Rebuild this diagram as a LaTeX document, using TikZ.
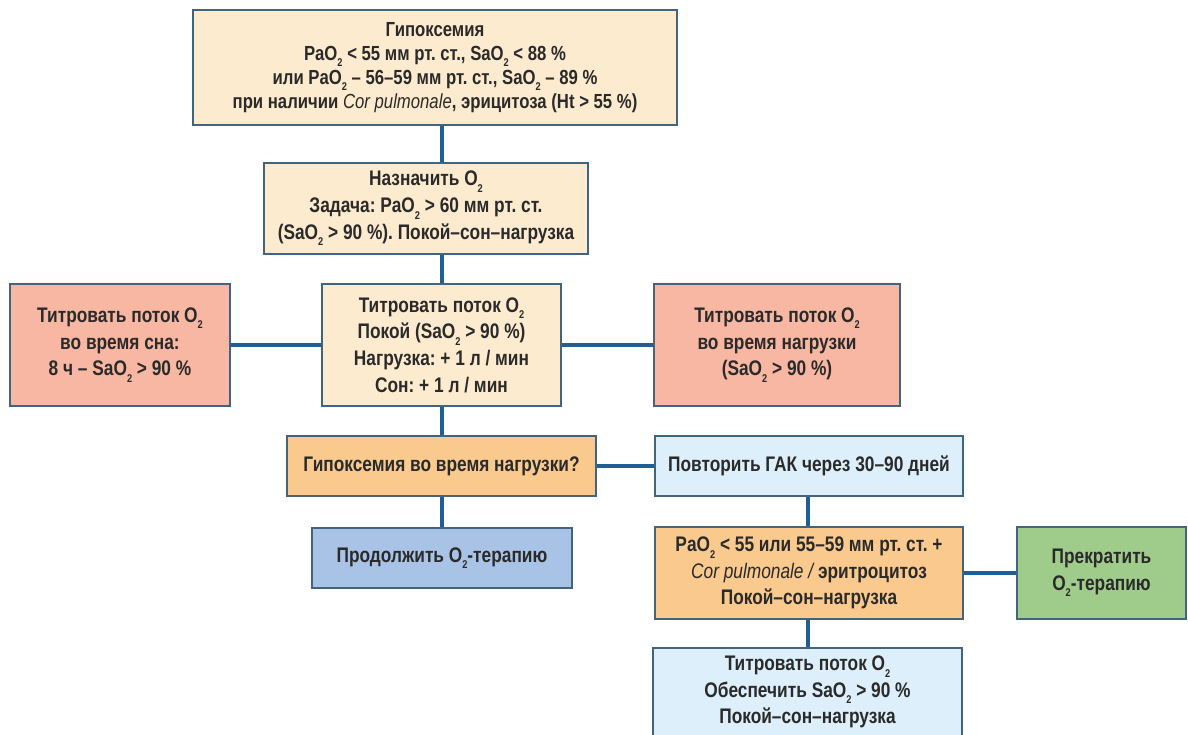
\documentclass[tikz,border=0pt]{standalone}
\usepackage{fontspec}
\setmainfont[FakeStretch=0.82]{Liberation Sans}
\definecolor{bordc}{HTML}{41657F}
\definecolor{linkc}{HTML}{1F5F96}
\definecolor{txt}{HTML}{2A2A2A}
\definecolor{peach}{HTML}{FDEBCF}
\definecolor{salmon}{HTML}{F7B7A2}
\definecolor{orng}{HTML}{FAC98E}
\definecolor{lblue}{HTML}{DCEFFA}
\definecolor{mblue}{HTML}{A8C3E6}
\definecolor{lgreen}{HTML}{9FCC8B}
\frenchspacing
\newcommand\subtwo{\raisebox{-0.6ex}{\fontsize{8}{8}\selectfont 2}}
\newcommand\mainfnt{\fontsize{15}{19}\selectfont\bfseries}
\newcommand\topfnt{\fontsize{14.5}{17.2}\selectfont\bfseries}
\newcommand\cp[1]{{\mdseries\itshape #1}}
\tikzset{
  box/.style={draw=bordc, line width=1.1pt, align=center, inner sep=0pt, text=txt, font=\mainfnt},
  sz/.style 2 args={minimum width=#1*0.025cm, minimum height=#2*0.025cm},
  link/.style={draw=linkc, line width=2.2pt},
}
\begin{document}
\begin{tikzpicture}[x=0.025cm, y=-0.025cm]
\useasboundingbox (0,0) rectangle (1188,735);
\clip (0,0) rectangle (1188,735);
\fill[white] (0,0) rectangle (1188,735);
\coordinate (cx) at (442,0);
\coordinate (rx) at (808,0);

\node[box, fill=peach, sz={484}{115}, font=\topfnt] (top) at (435,67.5)
  {Гипоксемия\\
   PaO\subtwo{} < 55 мм рт. ст., SaO\subtwo{} < 88 \%\\
   или PaO\subtwo{} – 56–59 мм рт. ст., SaO\subtwo{} – 89 \%\\
   при наличии \cp{Cor pulmonale}, эрицитоза (Ht > 55 \%)};

\node[box, fill=peach, sz={324}{91}] (assign) at (426,208.5)
  {Назначить O\subtwo\\
   Задача: PaO\subtwo{} > 60 мм рт. ст.\\
   (SaO\subtwo{} > 90 \%). Покой–сон–нагрузка};

\node[box, fill=peach, sz={239}{122}] (titr) at (441.5,345)
  {Титровать поток O\subtwo\\
   Покой (SaO\subtwo{} > 90 \%)\\
   Нагрузка: + 1 л / мин\\
   Сон: + 1 л / мин};

\node[box, fill=salmon, sz={220}{122}] (sleep) at (120,345)
  {Титровать поток O\subtwo\\
   во время сна:\\
   8 ч – SaO\subtwo{} > 90 \%};

\node[box, fill=salmon, sz={246}{122}] (load) at (777,345)
  {Титровать поток O\subtwo\\
   во время нагрузки\\
   (SaO\subtwo{} > 90 \%)};

\node[box, fill=orng, sz={309}{60}] (q) at (441.5,466)
  {Гипоксемия во время нагрузки?};

\node[box, fill=lblue, sz={308}{60}] (rep) at (809,466)
  {Повторить ГАК через 30–90 дней};

\node[box, fill=mblue, sz={260}{60}] (cont) at (442,558)
  {Продолжить O\subtwo-терапию};

\node[box, fill=orng, sz={308}{92}] (pao) at (809,573)
  {PaO\subtwo{} < 55 или 55–59 мм рт. ст. +\\
   \cp{Cor pulmonale /} эритроцитоз\\
   Покой–сон–нагрузка};

\node[box, fill=lgreen, sz={169}{92}] (stop) at (1101.5,573)
  {Прекратить\\ O\subtwo-терапию};

\node[box, fill=lblue, sz={309}{88}] (fin) at (807.5,692)
  {Титровать поток O\subtwo\\
   Обеспечить SaO\subtwo{} > 90 \%\\
   Покой–сон–нагрузка};

\draw[link] (top.south -| cx) -- (assign.north -| cx);
\draw[link] (assign.south -| cx) -- (titr.north -| cx);
\draw[link] (sleep.east) -- (titr.west);
\draw[link] (titr.east) -- (load.west);
\draw[link] (titr.south -| cx) -- (q.north -| cx);
\draw[link] (q.east) -- (rep.west);
\draw[link] (q.south -| cx) -- (cont.north -| cx);
\draw[link] (rep.south -| rx) -- (pao.north -| rx);
\draw[link] (pao.east) -- (stop.west);
\draw[link] (pao.south -| rx) -- (fin.north -| rx);
\end{tikzpicture}
\end{document}
